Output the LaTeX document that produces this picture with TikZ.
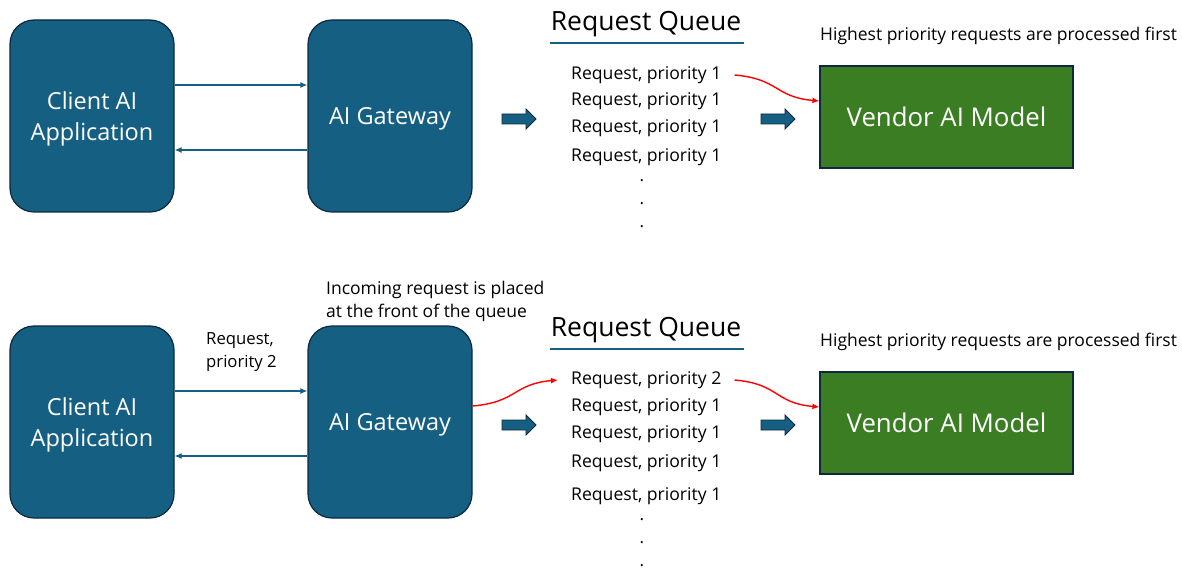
\documentclass[tikz,border=0pt]{standalone}
\usepackage{fontspec}
\setmainfont{Open Sans}
\usetikzlibrary{arrows.meta,positioning}
\definecolor{gwblue}{HTML}{156082}
\definecolor{navy}{HTML}{0E2841}
\definecolor{vgreen}{HTML}{3B7D23}
\begin{document}
\begin{tikzpicture}[x=1pt,y=-1pt,
  appbox/.style={draw=navy,fill=gwblue,line width=1.2pt,rounded corners=24pt,
    minimum width=164pt,minimum height=192pt,text=white,align=center,text depth=0pt,
    font=\fontsize{23.5}{31}\selectfont},
  vendorbox/.style={draw=navy,fill=vgreen,line width=1.2pt,
    minimum width=253pt,minimum height=102pt,text=white,
    font=\fontsize{25.8}{30}\selectfont},
  item/.style={anchor=west,inner sep=0pt,yshift=-2pt,font=\fontsize{17.6}{19}\selectfont},
  rulenote/.style={anchor=west,inner sep=0pt,yshift=-2pt,font=\fontsize{17.5}{19}\selectfont},
  note/.style={inner sep=0pt,align=left,yshift=-2pt,font=\fontsize{16.7}{23}\selectfont},
  qtitle/.style={inner sep=0pt,yshift=-3pt,font=\fontsize{26.5}{28}\selectfont},
  qdot/.style={inner sep=0pt,font=\fontsize{17}{19}\selectfont},
  bigarrow/.style={draw=navy,fill=gwblue,line width=0.9pt,line join=miter},
  link/.style={draw=gwblue,line width=1.3pt,-{Latex[length=7pt,width=6pt]}},
  prio/.style={draw=red,line width=1.4pt,-{Latex[length=7pt,width=6pt]}}]
\useasboundingbox (0,0) rectangle (1182,569);

%1
\node[appbox] (client) at (92,116) {Client AI\\Application};
\node[appbox] (gate) at (390,116) {AI Gateway};
\draw[link] ([yshift=31pt]client.east) -- ([yshift=31pt]gate.west);
\draw[link] ([yshift=-34pt]gate.west) -- ([yshift=-34pt]client.east);
\draw[bigarrow] (502,114) -- ++(24,0) -- ++(0,-5) -- ++(10,10) -- ++(-10,10) -- ++(0,-5) -- ++(-24,0) -- cycle;

\node[qtitle] (title) at (646,21) {Request Queue};
\draw[gwblue,line width=1.6pt] (550,43) -- (744,43);
\node[item] (a1) at (571,73) {Request, priority 1};
\node[item] (a2) at (571,99) {Request, priority 1};
\node[item] (a3) at (571,126) {Request, priority 1};
\node[item] (a4) at (571,155) {Request, priority 1};
\foreach \y in {181,204,227} \node[qdot] at (642,\y) {.};

\draw[bigarrow] (761,114) -- ++(24,0) -- ++(0,-5) -- ++(10,10) -- ++(-10,10) -- ++(0,-5) -- ++(-24,0) -- cycle;
\node[rulenote] (rule) at (820,34) {Highest priority requests are processed first};
\node[vendorbox] (vendor) at (946.5,117) {Vendor AI Model};
\draw[prio] ([xshift=13pt]a1.east) to[out=-5,in=175,looseness=1.3] ([yshift=16pt]vendor.west);

%2
\node[appbox] (client2) at (92,422) {Client AI\\Application};
\node[appbox] (gate2) at (390,422) {AI Gateway};
\node[note,anchor=west] (req) at (206,350.5) {Request,\\priority 2};
\node[note,anchor=west,font=\fontsize{17.5}{23}\selectfont] (incoming) at (326,299.5) {Incoming request is placed\\at the front of the queue};
\draw[link] ([yshift=31pt]client2.east) -- ([yshift=31pt]gate2.west);
\draw[link] ([yshift=-34pt]gate2.west) -- ([yshift=-34pt]client2.east);
\draw[bigarrow] (502,420) -- ++(24,0) -- ++(0,-5) -- ++(10,10) -- ++(-10,10) -- ++(0,-5) -- ++(-24,0) -- cycle;

\node[qtitle] (title2) at (646,327) {Request Queue};
\draw[gwblue,line width=1.6pt] (550,349) -- (744,349);
\node[item] (b1) at (571,378) {Request, priority 2};
\node[item] (b2) at (571,405) {Request, priority 1};
\node[item] (b3) at (571,432) {Request, priority 1};
\node[item] (b4) at (571,461) {Request, priority 1};
\node[item] (b5) at (571,494) {Request, priority 1};
\foreach \y in {520,543,566} \node[qdot] at (642,\y) {.};
\draw[prio] ([yshift=16pt]gate2.east) to[out=5,in=185,looseness=1.3] ([xshift=-13pt]b1.west);

\draw[bigarrow] (761,420) -- ++(24,0) -- ++(0,-5) -- ++(10,10) -- ++(-10,10) -- ++(0,-5) -- ++(-24,0) -- cycle;
\node[rulenote] (rule2) at (820,340) {Highest priority requests are processed first};
\node[vendorbox] (vendor2) at (946.5,423) {Vendor AI Model};
\draw[prio] ([xshift=13pt]b1.east) to[out=-5,in=175,looseness=1.3] ([yshift=16pt]vendor2.west);
\end{tikzpicture}
\end{document}
